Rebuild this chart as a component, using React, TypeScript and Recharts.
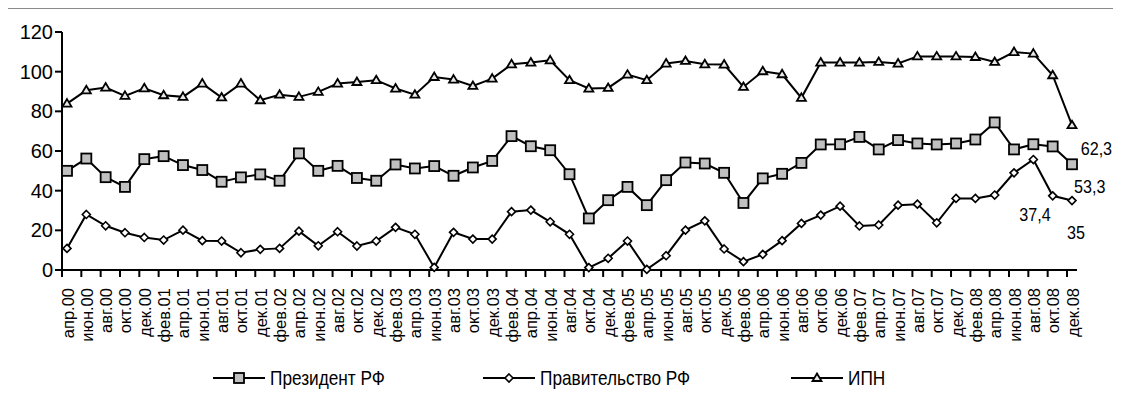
import { LineChart, Line, XAxis, YAxis, Legend, LabelList } from 'recharts'

const months = [
	'апр.00', 'июн.00', 'авг.00', 'окт.00', 'дек.00',
	'фев.01', 'апр.01', 'июн.01', 'авг.01', 'окт.01', 'дек.01',
	'фев.02', 'апр.02', 'июн.02', 'авг.02', 'окт.02', 'дек.02',
	'фев.03', 'апр.03', 'июн.03', 'авг.03', 'окт.03', 'дек.03',
	'фев.04', 'апр.04', 'июн.04', 'авг.04', 'окт.04', 'дек.04',
	'фев.05', 'апр.05', 'июн.05', 'авг.05', 'окт.05', 'дек.05',
	'фев.06', 'апр.06', 'июн.06', 'авг.06', 'окт.06', 'дек.06',
	'фев.07', 'апр.07', 'июн.07', 'авг.07', 'окт.07', 'дек.07',
	'фев.08', 'апр.08', 'июн.08', 'авг.08', 'окт.08', 'дек.08',
]

const president = [
	50.0, 56.2, 46.8, 41.9, 55.9, 57.4, 52.9, 50.4, 44.5, 46.7, 48.2, 45.0, 58.8,
	50.0, 52.5, 46.4, 45.0, 53.2, 51.2, 52.4, 47.5, 51.7, 55.0, 67.5, 62.4, 60.4,
	48.3, 26.0, 35.2, 41.9, 32.7, 45.3, 54.2, 53.7, 49.0, 33.8, 46.2, 48.5, 54.0,
	63.3, 63.4, 67.1, 60.8, 65.5, 63.8, 63.3, 63.8, 65.8, 74.4, 60.8, 63.4, 62.3,
	53.3,
]

const government = [
	10.9, 28.0, 22.3, 18.8, 16.4, 15.1, 20.1, 14.8, 14.6, 8.7, 10.4, 10.9, 19.6,
	12.2, 19.3, 12.1, 14.6, 21.5, 18.0, 1.3, 19.0, 15.6, 15.6, 29.4, 30.2, 24.3,
	18.0, 1.2, 5.9, 14.6, 0.3, 7.2, 20.1, 24.8, 10.6, 4.2, 7.9, 14.8, 23.5,
	27.7, 32.2, 22.2, 22.7, 32.7, 33.2, 23.8, 36.1, 36.1, 37.8, 49.0, 55.7, 37.4,
	35,
]

const ipn = [
	83.9, 90.6, 92.0, 87.8, 91.6, 88.1, 87.3, 94.0, 87.0, 94.0, 85.6, 88.4, 87.3,
	89.8, 94.0, 94.8, 95.7, 91.5, 88.4, 97.3, 96.0, 92.8, 96.5, 103.7, 104.6, 105.7,
	95.7, 91.5, 91.8, 98.5, 95.7, 104.1, 105.4, 103.7, 103.6, 92.3, 100.2, 98.7, 86.8,
	104.6, 104.6, 104.6, 104.9, 104.1, 107.7, 107.7, 107.7, 107.4, 104.9, 109.9, 109.1, 98.2,
	73.0,
]

const seriesNames = ['Президент РФ', 'Правительство РФ', 'ИПН']
const yTicks = [0, 20, 40, 60, 80, 100, 120]
// only these points carry a value label
const labelledPoints = [51, 52]

const data = months.map((m, i) => ({
	month: m,
	president: president[i],
	government: government[i],
	ipn: ipn[i],
}))

const regular = "'Liberation Sans', Arial, sans-serif"

const Square = ({ cx, cy }: any) => (
	<rect x={cx - 5} y={cy - 5} width={10} height={10} fill='#c0c0c0' stroke='#000' strokeWidth={1.8} />
)

const Diamond = ({ cx, cy }: any) => (
	<path d={`M${cx},${cy - 4} L${cx + 4},${cy} L${cx},${cy + 4} L${cx - 4},${cy} Z`} fill='#fff' stroke='#000' strokeWidth={1.6} />
)

const Triangle = ({ cx, cy }: any) => (
	<path d={`M${cx},${cy - 4.5} L${cx + 4.5},${cy + 3} L${cx - 4.5},${cy + 3} Z`} fill='#e8e8e8' stroke='#000' strokeWidth={1.8} />
)

const markers = [Square, Diamond, Triangle]

const XTick = ({ x, y, payload }: any) => (
	<g>
		<line x1={x - 5} y1={y} x2={x - 5} y2={y + 7} stroke='#000' strokeWidth={2} />
		<text
			x={x + 6.5}
			y={y + 18}
			transform={`rotate(-90, ${x + 6.5}, ${y + 18})`}
			textAnchor='end'
			fontSize={16.5}
			fontFamily={regular}
			fill='#000'
		>
			{payload.value}
		</text>
	</g>
)

// label offsets around the last points: [dx, dy, anchor]
const labelPlacement: Record<string, [number, number, string]> = {
	'president-51': [28, 2, 'start'],
	'president-52': [2, 22, 'start'],
	'government-51': [-2, 19, 'end'],
	'government-52': [4, 32, 'middle'],
}

const makeLabel = (key: string) => (props: any) => {
	const { x, y, value, index } = props
	if (!labelledPoints.includes(index)) return null
	const p = labelPlacement[`${key}-${index}`]
	if (!p) return null
	return (
		<text
			transform={`translate(${x + p[0]}, ${y + p[1]}) scale(0.85, 1)`}
			textAnchor={p[2] as any}
			dominantBaseline='central'
			fontSize={19}
			fontFamily={regular}
			fill='#000'
		>
			{String(value).replace('.', ',')}
		</text>
	)
}

const legendLefts = [213, 483, 791]

const LegendContent = () => (
	<div style={{ position: 'relative', height: 22 }}>
		{seriesNames.map((name, i) => {
			const M = markers[i]
			return (
				<div
					key={name}
					style={{ position: 'absolute', left: legendLefts[i], top: 0, display: 'flex', alignItems: 'center', whiteSpace: 'nowrap' }}
				>
					<svg width={52} height={22}>
						<line x1={0} y1={11} x2={52} y2={11} stroke='#000' strokeWidth={2} />
						<M cx={26} cy={11} />
					</svg>
					<span
						style={{
							fontFamily: regular,
							fontSize: 21,
							marginLeft: 5,
							color: '#000',
							lineHeight: '22px',
							display: 'inline-block',
							transform: 'scaleX(0.82)',
							transformOrigin: 'left center',
						}}
					>
						{name}
					</span>
				</div>
			)
		})}
	</div>
)

const App = () => {
	return (
		<div style={{ position: 'relative', width: 1121, height: 401, margin: '-8px 0 0 -8px', background: '#fff' }}>
			<div
				style={{
					position: 'absolute',
					left: 5,
					top: 7,
					width: 1116,
					height: 394,
					borderTop: '2px solid #8a8a8a',
					borderLeft: '2px solid #8a8a8a',
					boxSizing: 'border-box',
				}}
			/>
			<div style={{ position: 'absolute', left: 0, top: 0 }}>
				<LineChart width={1121} height={401} data={data} margin={{ top: 32, right: 44, bottom: 51, left: 0 }}>
					<XAxis
						dataKey='month'
						interval={0}
						padding={{ left: 5, right: 5 }}
						height={80}
						tickSize={0}
						tickMargin={0}
						tickLine={false}
						axisLine={{ stroke: '#000', strokeWidth: 2 }}
						tick={<XTick />}
					/>
					<YAxis
						width={62}
						domain={[0, 120]}
						ticks={yTicks}
						interval={0}
						tickSize={7}
						tickMargin={2}
						axisLine={{ stroke: '#000', strokeWidth: 2 }}
						tickLine={{ stroke: '#000', strokeWidth: 2 }}
						tick={{ fontSize: 20, fontFamily: regular, fill: '#000' }}
					/>
					<Legend
						layout='horizontal'
						verticalAlign='middle'
						wrapperStyle={{ top: 367, left: 0, width: 1121 }}
						content={<LegendContent />}
					/>
					<Line
						dataKey='ipn'
						name={seriesNames[2]}
						stroke='#000'
						strokeWidth={2}
						dot={<Triangle />}
						activeDot={false}
						isAnimationActive={false}
					/>
					<Line
						dataKey='president'
						name={seriesNames[0]}
						stroke='#000'
						strokeWidth={2}
						dot={<Square />}
						activeDot={false}
						isAnimationActive={false}
					>
						<LabelList dataKey='president' content={makeLabel('president')} />
					</Line>
					<Line
						dataKey='government'
						name={seriesNames[1]}
						stroke='#000'
						strokeWidth={2}
						dot={<Diamond />}
						activeDot={false}
						isAnimationActive={false}
					>
						<LabelList dataKey='government' content={makeLabel('government')} />
					</Line>
				</LineChart>
			</div>
		</div>
	)
}

export default App
